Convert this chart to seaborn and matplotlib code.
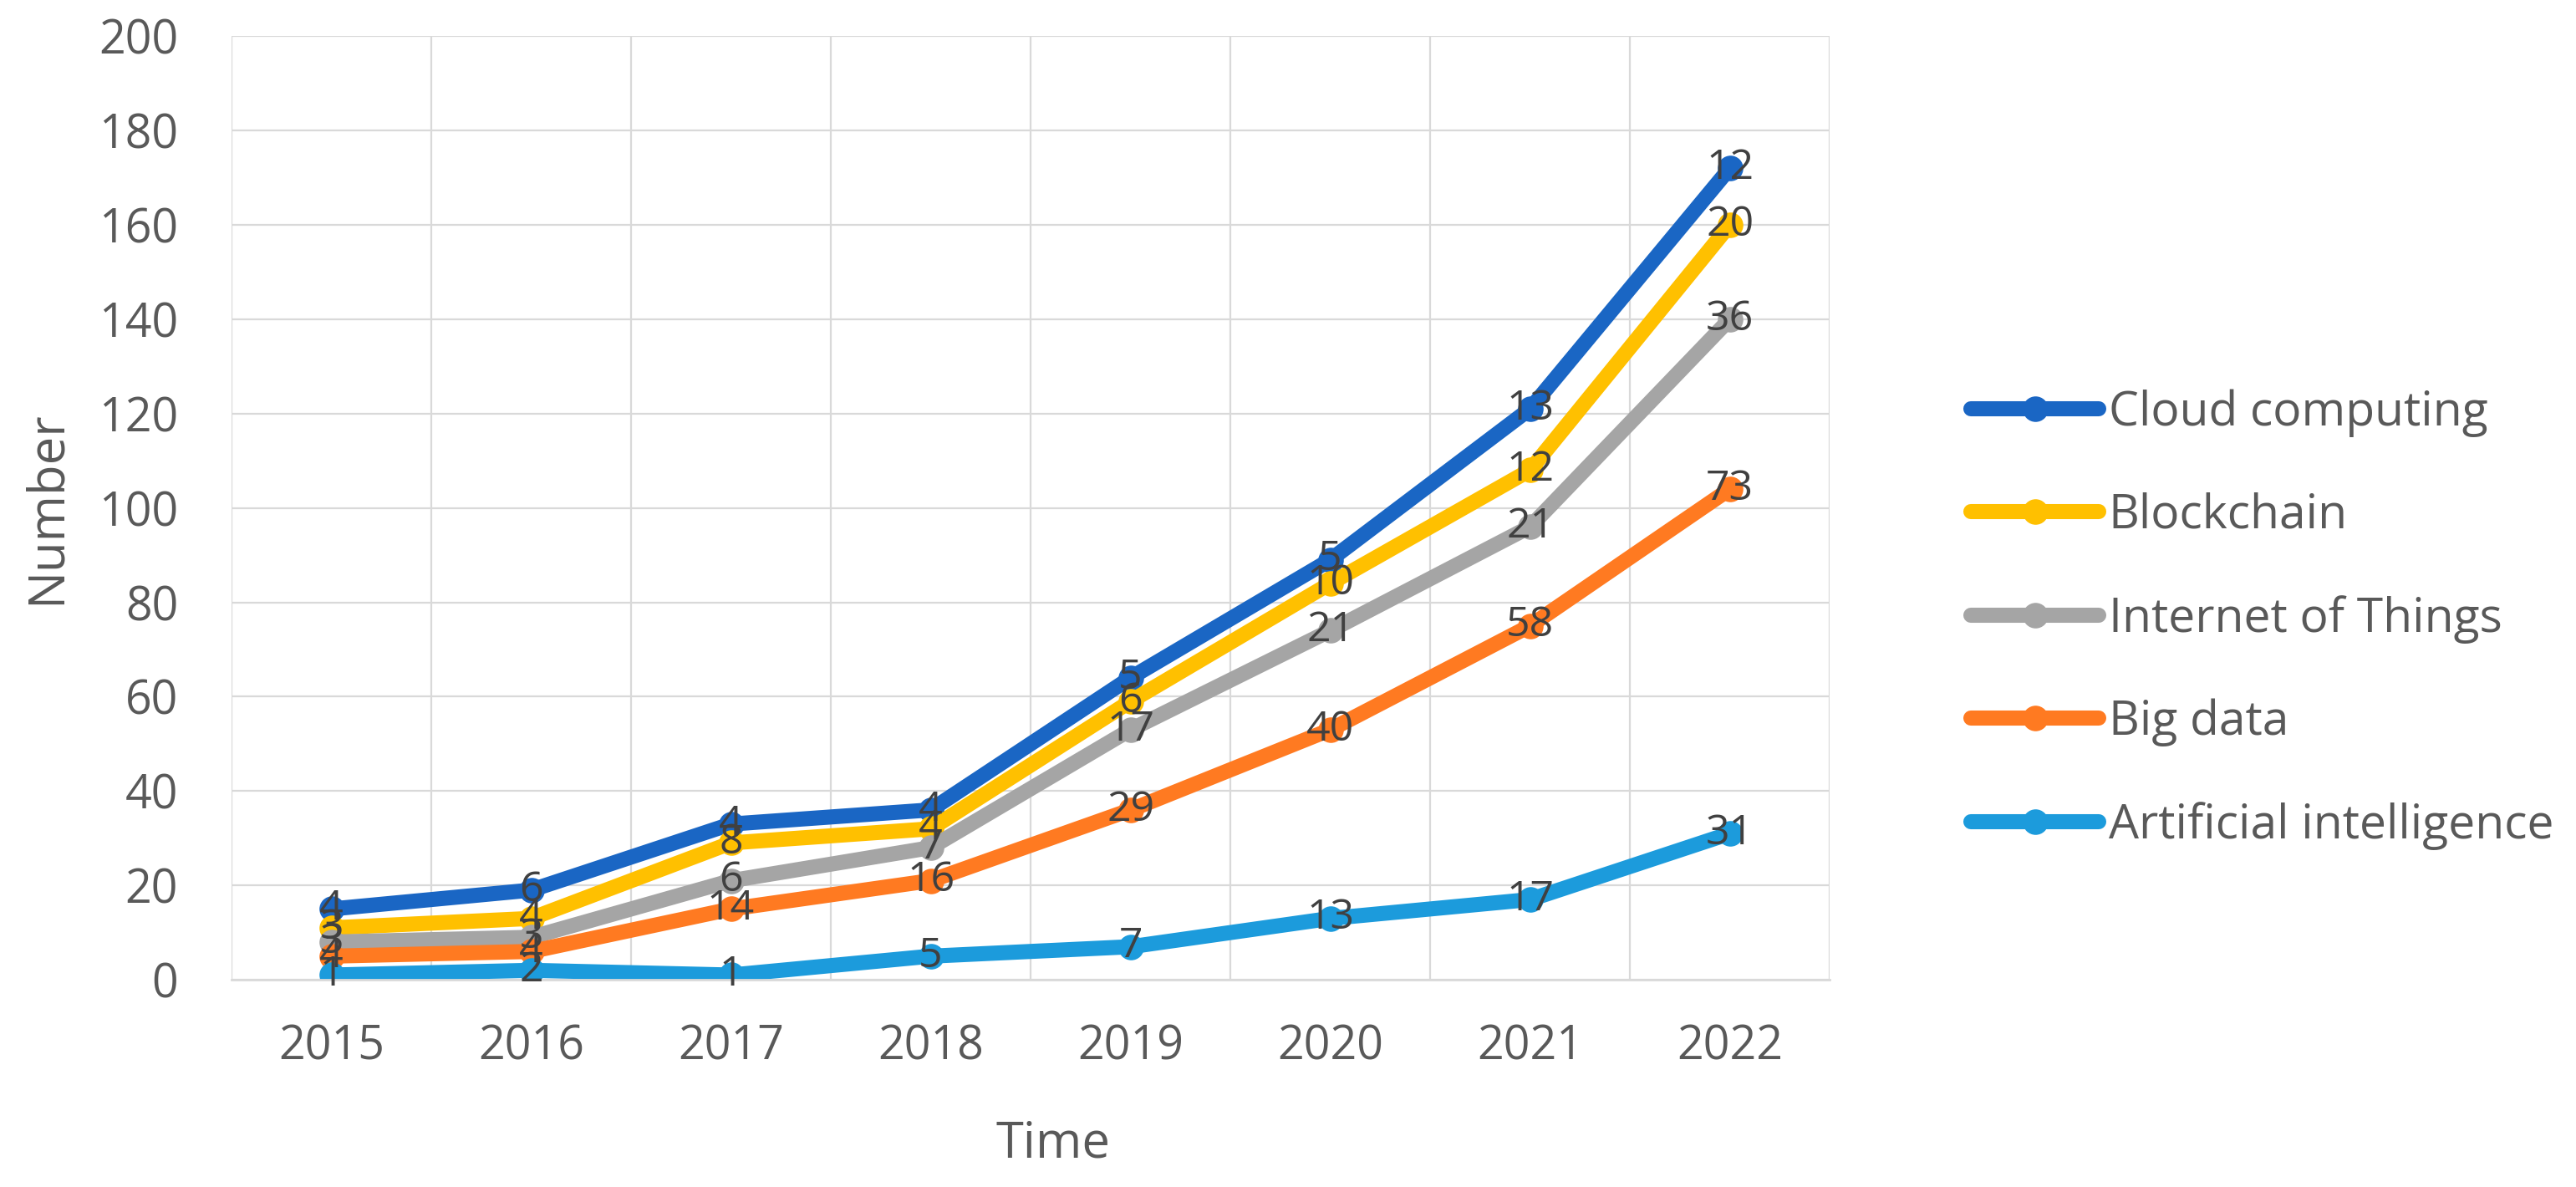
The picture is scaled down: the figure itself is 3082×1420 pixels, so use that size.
import matplotlib
matplotlib.use("Agg")
import matplotlib.pyplot as plt
import seaborn as sns
import pandas as pd
import numpy as np

# ---- data (individual values shown as labels; lines are stacked totals) ----
years = ["2015", "2016", "2017", "2018", "2019", "2020", "2021", "2022"]
artificial_intelligence = [1, 2, 1, 5, 7, 13, 17, 31]
big_data = [4, 4, 14, 16, 29, 40, 58, 73]
internet_of_things = [3, 3, 6, 7, 17, 21, 21, 36]
blockchain = [3, 4, 8, 4, 6, 10, 12, 20]
cloud_computing = [4, 6, 4, 4, 5, 5, 13, 12]

series_names = ["Artificial intelligence", "Big data", "Internet of Things",
                "Blockchain", "Cloud computing"]
series_values = [artificial_intelligence, big_data, internet_of_things,
                 blockchain, cloud_computing]
legend_order = ["Cloud computing", "Blockchain", "Internet of Things",
                "Big data", "Artificial intelligence"]
palette = {
    "Cloud computing": "#1A66C4",
    "Blockchain": "#FFC000",
    "Internet of Things": "#A5A5A5",
    "Big data": "#FF7A21",
    "Artificial intelligence": "#1C9BDC",
}

# build long table with stacked (cumulative) values
rows = []
running = np.zeros(len(years))
for name, vals in zip(series_names, series_values):
    running = running + np.array(vals)
    for i, (y, v) in enumerate(zip(years, vals)):
        rows.append({"idx": i, "Year": y, "series": name,
                     "value": v, "stacked": running[i]})
df = pd.DataFrame(rows)

sns.set_theme(style="white")
plt.rcParams["font.family"] = ["Open Sans", "DejaVu Sans"]

fig = plt.figure(figsize=(30.82, 14.2), dpi=100)
ax = fig.add_axes([0.0899, 0.1746, 0.6204, 0.795])

sns.lineplot(data=df, x="idx", y="stacked", hue="series", hue_order=legend_order,
             palette=palette, marker="o", markersize=22, markeredgewidth=0,
             linewidth=13, ax=ax, legend=True, sort=False)

# data labels centred on points
for _, r in df.iterrows():
    ax.text(r["idx"], r["stacked"], f"{int(r['value'])}", ha="center", va="center",
            fontsize=36, color="#404040", zorder=10)

ax.set_xlim(-0.5, len(years) - 0.5)
ax.set_ylim(0, 200)
ax.set_yticks(np.arange(0, 201, 20))
ax.set_xticks(range(len(years)))
ax.set_xticklabels(years)
ax.tick_params(axis="both", length=0, labelsize=40, labelcolor="#595959")
ax.tick_params(axis="y", pad=46)
ax.tick_params(axis="x", pad=38)

# gridlines: horizontal at ticks, vertical at category boundaries
ax.set_xticks(np.arange(-0.5, len(years), 1.0), minor=True)
ax.grid(False)
ax.yaxis.grid(True, color="#D9D9D9", linewidth=1.6)
ax.xaxis.grid(True, which="minor", color="#D9D9D9", linewidth=1.6)
ax.xaxis.grid(False, which="major")
ax.set_axisbelow(True)
for s in ax.spines.values():
    s.set_visible(False)
ax.spines["bottom"].set_visible(True)
ax.spines["bottom"].set_color("#D9D9D9")
ax.spines["bottom"].set_linewidth(2)

ax.set_xlabel("Time", fontsize=43, color="#595959", va="center")
ax.set_ylabel("Number", fontsize=43, color="#595959", va="center")
ax.xaxis.set_label_coords(0.514, -0.174)
ax.yaxis.set_label_coords(-0.116, 0.5)

handles, labels = ax.get_legend_handles_labels()
ax.legend(handles, labels, loc="center left", bbox_to_anchor=(0.765, 0.478),
          bbox_transform=fig.transFigure, frameon=False, fontsize=41,
          handlelength=2.7, handletextpad=0.2, labelspacing=1.16,
          borderpad=0, borderaxespad=0, labelcolor="#595959")

fig.savefig("out.png", dpi=100)
